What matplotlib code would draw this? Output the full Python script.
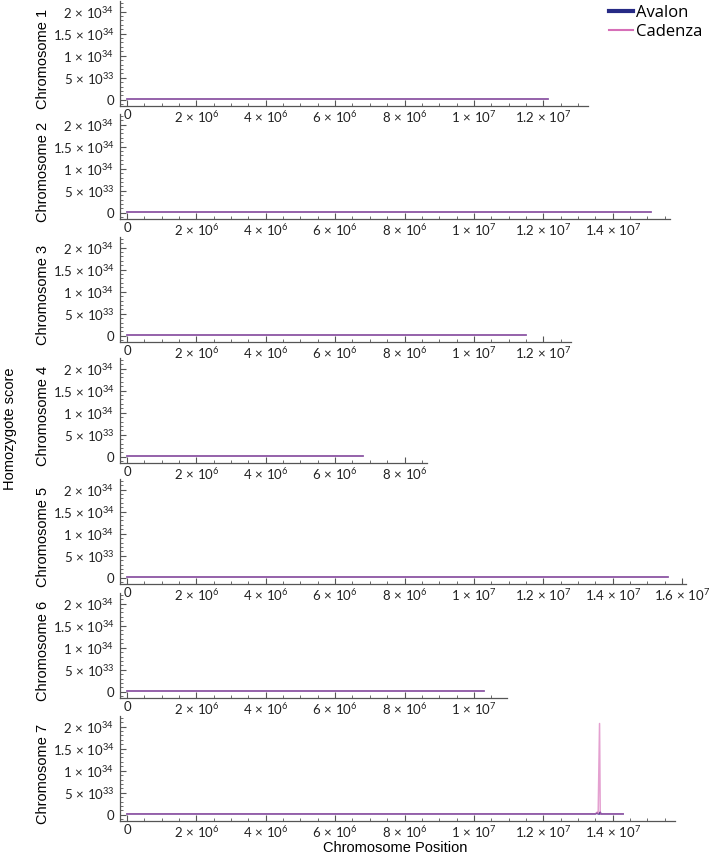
import matplotlib
matplotlib.use('Agg')
import matplotlib.pyplot as plt
from matplotlib.ticker import MultipleLocator, FuncFormatter
from matplotlib.lines import Line2D
import numpy as np

plt.rcParams['font.family'] = ['Lato', 'DejaVu Sans']
plt.rcParams['mathtext.fontset'] = 'custom'
plt.rcParams['mathtext.rm'] = 'Lato'
plt.rcParams['mathtext.it'] = 'Lato:italic'
plt.rcParams['mathtext.bf'] = 'Lato:bold'

# data (positions in bp, scores)
chromosomes = ['Chromosome 1', 'Chromosome 2', 'Chromosome 3', 'Chromosome 4',
               'Chromosome 5', 'Chromosome 6', 'Chromosome 7']
chrom_end = [12.13e6, 15.1e6, 11.5e6, 6.8e6, 15.6e6, 10.3e6, 14.3e6]
axis_end = [13.3e6, 15.65e6, 12.8e6, 8.65e6, 16.1e6, 10.95e6, 15.8e6]
baseline = 2e32
chr7_pos = [0, 13.50e6, 13.55e6, 13.58e6, 13.62e6, 13.64e6, 13.66e6, 13.70e6, 14.3e6]
chr7_avalon = [baseline, baseline, 4e32, baseline, baseline, 6e32, baseline, baseline, baseline]
chr7_cadenza = [baseline, baseline, 6e32, baseline, 2.07e34, baseline, baseline, baseline, baseline]

avalon_col = '#262a85'
cadenza_col = '#d66fb8'

W, H = 709, 857
fig = plt.figure(figsize=(W/100, H/100), dpi=100)

x0_px = 120        # y axis spine position
px_per_bp = 34.7e-6
xmin = -0.2e6
bottoms = [106, 219, 342, 463, 584, 698, 821]
height_px = 105

def sci(v, pos):
    if v == 0:
        return '0'
    e = int(np.floor(np.log10(abs(v)) + 1e-9))
    m = v / 10**e
    ms = ('%.1f' % m).rstrip('0').rstrip('.')
    return r'$\mathrm{%s}\,\times\,\mathrm{10}^{%d}$' % (ms, e)

for i in range(7):
    wpx = (axis_end[i] - xmin) * px_per_bp
    ax = fig.add_axes([x0_px/W, 1 - bottoms[i]/H, wpx/W, height_px/H])
    ax.set_facecolor('none')
    if i == 6:
        xs = chr7_pos
        ya = chr7_avalon
        yc = chr7_cadenza
    else:
        xs = [0, chrom_end[i]]
        ya = [baseline, baseline]
        yc = [baseline, baseline]
    ax.plot(xs, ya, '-', color=avalon_col, lw=1.1)
    ax.plot(xs, yc, '-', color=cadenza_col, lw=1.1, alpha=0.65)
    ax.set_xlim(xmin, axis_end[i])
    ax.set_ylim(-1.4e33, 2.24e34)
    for s in ['top', 'right']:
        ax.spines[s].set_visible(False)
    for s in ['left', 'bottom']:
        ax.spines[s].set_color('#555555')
        ax.spines[s].set_linewidth(0.9)
    ax.xaxis.set_major_locator(MultipleLocator(2e6))
    ax.xaxis.set_minor_locator(MultipleLocator(0.5e6))
    ax.yaxis.set_major_locator(MultipleLocator(5e33))
    ax.yaxis.set_minor_locator(MultipleLocator(1e33))
    ax.xaxis.set_major_formatter(FuncFormatter(sci))
    ax.yaxis.set_major_formatter(FuncFormatter(sci))
    ax.tick_params(which='both', direction='in', colors='#555555', labelcolor='#222222', labelsize=9.5)
    ax.tick_params(which='major', length=4, width=0.8)
    ax.tick_params(which='minor', length=2, width=0.6)
    ax.tick_params(axis='x', which='major', pad=2)
    ax.tick_params(axis='y', which='major', pad=4)
    ax.set_ylabel(chromosomes[i], family=['Liberation Sans', 'DejaVu Sans'], fontsize=10.5)
    ax.yaxis.set_label_coords((50 - x0_px)/wpx, 0.45)

fig.text(10/W, 0.5, 'Homozygote score', rotation=90, ha='center', va='center',
         family=['Liberation Sans', 'DejaVu Sans'], fontsize=10.5)
fig.text(395/W, 1 - 848/H, 'Chromosome Position', ha='center', va='center',
         family=['Liberation Sans', 'DejaVu Sans'], fontsize=10.5)

handles = [Line2D([0], [0], color=avalon_col, lw=3),
           Line2D([0], [0], color=cadenza_col, lw=1.5)]
fig.legend(handles, ['Avalon', 'Cadenza'], loc='upper right', bbox_to_anchor=(1.012, 1.012),
           frameon=False, handlelength=1.4, handletextpad=0.2,
           labelspacing=0.2, prop={'family': ['Open Sans', 'DejaVu Sans'], 'size': 12})

plt.savefig('out.png', dpi=100)
